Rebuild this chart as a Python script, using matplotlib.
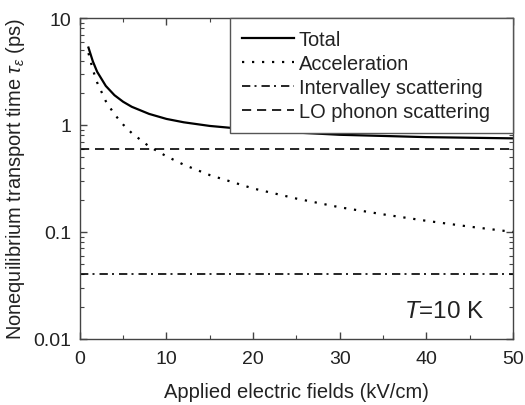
import numpy as np
import matplotlib.pyplot as plt
from matplotlib.ticker import MultipleLocator, LogLocator, NullFormatter

plt.rcParams['font.family'] = ['Liberation Sans', 'DejaVu Sans']
plt.rcParams['mathtext.fontset'] = 'custom'
plt.rcParams['mathtext.rm'] = 'Liberation Sans'
plt.rcParams['mathtext.it'] = 'Liberation Sans:italic'

# values
field = [1, 1.5, 2, 3, 4, 5, 6, 8, 10, 12, 15, 20, 25, 30, 35, 40, 45, 50]
acceleration = [4.7, 3.3, 2.5, 1.67, 1.26, 1.01, 0.84, 0.63, 0.51, 0.425, 0.34, 0.255,
                0.205, 0.17, 0.146, 0.127, 0.112, 0.10]
total = [5.3, 3.95, 3.15, 2.32, 1.9, 1.65, 1.48, 1.27, 1.14, 1.06, 0.98, 0.9,
         0.85, 0.81, 0.79, 0.77, 0.76, 0.75]
intervalley = [0.04, 0.04]
lo_phonon = [0.6, 0.6]
flat_field = [0, 50]

fig = plt.figure(figsize=(5.25, 4.06), dpi=100)
ax = fig.add_axes([0.152, 0.163, 0.825, 0.79])

ax.plot(field, total, color='black', lw=1.6, label='Total')
ax.plot(field, acceleration, color='black', lw=1.6, ls=(0, (1, 3.5)), label='Acceleration')
ax.plot(flat_field, intervalley, color='black', lw=1.2, ls=(0, (5, 2.5, 1.2, 3)),
        label='Intervalley scattering')
ax.plot(flat_field, lo_phonon, color='black', lw=1.2, ls=(0, (5.5, 3.5)),
        label='LO phonon scattering  ')

ax.set_yscale('log')
ax.set_xlim(0, 50)
ax.set_ylim(0.01, 10)
ax.xaxis.set_major_locator(MultipleLocator(10))
ax.xaxis.set_minor_locator(MultipleLocator(5))
ax.yaxis.set_minor_locator(LogLocator(base=10, subs=np.arange(2, 10), numticks=10))
ax.yaxis.set_minor_formatter(NullFormatter())
ax.set_yticks([0.01, 0.1, 1, 10])
ax.set_yticklabels(['0.01', '0.1', '1', '10'])

ax.tick_params(which='both', direction='in', top=True, right=True, labelsize=14,
               color='#444444', labelcolor='#222222')
ax.tick_params(which='major', length=5, width=1)
ax.tick_params(which='minor', length=3, width=0.8)
ax.tick_params(axis='x', pad=8)
ax.tick_params(axis='y', pad=6)
for s in ax.spines.values():
    s.set_color('#444444')
    s.set_linewidth(1)

ax.set_xlabel('Applied electric fields (kV/cm)', fontsize=14.5, labelpad=11, color='#222222')
ax.set_ylabel(r'Nonequilibrium transport time $\tau_\varepsilon$ (ps)', fontsize=14.4,
              labelpad=5, color='#222222')

leg = ax.legend(loc='upper right', borderaxespad=0, fontsize=14.4, handlelength=2.6,
                handletextpad=0.25, labelspacing=0.25, borderpad=0.6, fancybox=False,
                framealpha=1, edgecolor='#555555')
leg.get_frame().set_linewidth(1)
for t in leg.get_texts():
    t.set_color('#222222')

ax.text(0.935, 0.068, r'$T$=10 K', transform=ax.transAxes, ha='right', va='baseline',
        fontsize=17.5, color='#222222')

fig.savefig('out.png', dpi=100)
